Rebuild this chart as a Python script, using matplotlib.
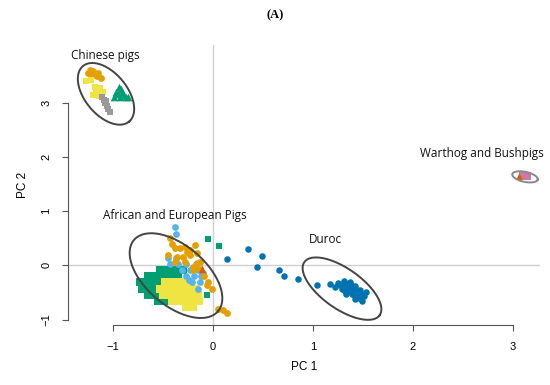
import numpy as np
import matplotlib.pyplot as plt

# PCA scores (PC1, PC2)
chn_orange_x = [-1.25, -1.20, -1.15, -1.21, -1.16, -1.12, -1.23, -1.18]
chn_orange_y = [3.55, 3.59, 3.55, 3.50, 3.48, 3.46, 3.60, 3.52]
chn_yellow_x = [-1.27, -1.22, -1.18, -1.13, -1.17, -1.10, -1.14, -1.20, -1.16]
chn_yellow_y = [3.40, 3.41, 3.28, 3.26, 3.18, 3.19, 3.12, 3.14, 3.23]
chn_gray_x = [-1.11, -1.09, -1.08, -1.06, -1.05, -1.03, -1.07]
chn_gray_y = [3.10, 3.05, 2.99, 2.93, 2.88, 2.82, 3.03]
chn_green_x = [-0.94, -0.97, -0.91, -0.99, -0.93, -0.87, -0.95, -0.89, -0.85, -0.92]
chn_green_y = [3.29, 3.20, 3.20, 3.11, 3.11, 3.11, 3.15, 3.13, 3.10, 3.25]

eu_green_x = [-0.53, -0.46, -0.38, -0.30,
              -0.65, -0.58, -0.51, -0.43, -0.35,
              -0.73, -0.67, -0.60, -0.53, -0.45,
              -0.71, -0.64, -0.57, -0.50,
              -0.65, -0.58, -0.51, -0.45,
              -0.55, -0.48, -0.40]
eu_green_y = [-0.09, -0.09, -0.09, -0.09,
              -0.20, -0.20, -0.20, -0.20, -0.20,
              -0.31, -0.31, -0.31, -0.31, -0.31,
              -0.43, -0.43, -0.43, -0.43,
              -0.54, -0.54, -0.54, -0.54,
              -0.65, -0.65, -0.65]
eu_green_out_x = [-0.06, -0.05, 0.06]
eu_green_out_y = [-0.54, 0.48, 0.35]
eu_yellow_x = [-0.48, -0.41, -0.33, -0.25,
               -0.53, -0.46, -0.39, -0.32, -0.25, -0.18,
               -0.50, -0.43, -0.36, -0.29, -0.22, -0.15,
               -0.41, -0.34, -0.27, -0.20, -0.14,
               -0.27, -0.20]
eu_yellow_y = [-0.31, -0.31, -0.31, -0.31,
               -0.43, -0.43, -0.43, -0.43, -0.43, -0.43,
               -0.54, -0.54, -0.54, -0.54, -0.54, -0.54,
               -0.65, -0.65, -0.65, -0.65, -0.65,
               -0.76, -0.76]
eu_blue_x = [-0.38, -0.37, -0.45, -0.37,
             -0.43, -0.35, -0.27, -0.17,
             -0.31, -0.23, -0.15,
             -0.27, -0.19, -0.12,
             -0.21, -0.13, -0.15, -0.24, -0.10]
eu_blue_y = [0.70, 0.57, 0.13, 0.13,
             0.02, 0.02, 0.02, 0.02,
             -0.09, -0.09, -0.09,
             -0.20, -0.20, -0.20,
             -0.31, -0.31, -0.43, -0.27, -0.14]
eu_orange_x = [-0.43, -0.38, -0.33, -0.28, -0.23, -0.16, -0.26, -0.36, -0.30,
               -0.23, -0.45, -0.38, -0.28, -0.16, -0.13, -0.20, -0.13, -0.20,
               -0.05, -0.06, -0.01, 0.05, 0.10, 0.14, -0.41, -0.18, -0.09]
eu_orange_y = [0.50, 0.31, 0.31, 0.33, 0.28, 0.22, 0.24, 0.15, 0.15,
               0.19, 0.19, 0.06, 0.06, 0.04, 0.06, -0.04, -0.06, -0.09,
               -0.31, -0.37, -0.43, -0.80, -0.83, -0.87, 0.39, 0.37, -0.19]
eu_red_x = [-0.11]
eu_red_y = [-0.06]

duroc_x = [0.14, 0.35, 0.49, 0.44, 0.66, 0.71, 0.85, 1.04, 1.17,
           1.25, 1.31, 1.37, 1.29, 1.35, 1.42, 1.47, 1.33, 1.39, 1.45,
           1.51, 1.42, 1.49, 1.27, 1.53, 1.40, 1.30, 1.34, 1.38, 1.44,
           1.36, 1.41, 1.46, 1.32, 1.48, 1.22]
duroc_y = [0.11, 0.30, 0.17, -0.04, -0.09, -0.20, -0.26, -0.37, -0.35,
           -0.33, -0.28, -0.31, -0.43, -0.41, -0.39, -0.46, -0.52, -0.52, -0.56,
           -0.57, -0.63, -0.65, -0.37, -0.50, -0.44, -0.36, -0.35, -0.37, -0.45,
           -0.48, -0.55, -0.60, -0.47, -0.53, -0.40]

wart_x = [3.10, 3.14]
wart_y = [1.65, 1.65]
bush_x = [3.06]
bush_y = [1.64]

# groups: centre, semi-axes (screen px), screen angle
groups = ['Chinese pigs', 'African and European Pigs', 'Duroc', 'Warthog and Bushpigs']
label_xy = [(-1.08, 3.86), (-0.38, 0.92), (1.12, 0.48), (2.69, 2.06)]
ell_centre = [(-1.07, 3.16), (-0.37, -0.19), (1.29, -0.43), (3.12, 1.63)]
ell_axes = [(36, 21), (55, 30), (46, 20), (13, 5)]
ell_angle = [-50, -40, -35, -12]
ell_color = ['#444444', '#444444', '#444444', '#888888']

fig = plt.figure(figsize=(5.5, 3.85), dpi=100)
ax = fig.add_axes([68 / 550, 1 - 325 / 385, 472 / 550, 280 / 385])
ax.set_xlim(-1.45, 3.27)
ax.set_ylim(-1.10, 4.06)

ax.axvline(0, color='#cfcfcf', lw=1, zorder=0)
ax.axhline(0, color='#cfcfcf', lw=1, zorder=0)

ax.scatter(chn_orange_x, chn_orange_y, s=24, c='#E69F00', marker='o', lw=0)
ax.scatter(chn_yellow_x, chn_yellow_y, s=24, c='#F0E442', marker='s', lw=0)
ax.scatter(chn_gray_x, chn_gray_y, s=16, c='#999999', marker='s', lw=0)
ax.scatter(chn_green_x, chn_green_y, s=30, c='#009E73', marker='^', lw=0)

ax.scatter(eu_green_x, eu_green_y, s=36, c='#009E73', marker='s', lw=0)
ax.scatter(eu_green_out_x, eu_green_out_y, s=18, c='#009E73', marker='s', lw=0)
ax.scatter(eu_yellow_x, eu_yellow_y, s=36, c='#F0E442', marker='s', lw=0)
ax.scatter(eu_blue_x, eu_blue_y, s=24, c='#56B4E9', marker='o', lw=0)
ax.scatter(eu_orange_x, eu_orange_y, s=24, c='#E69F00', marker='o', lw=0)
ax.scatter(eu_red_x, eu_red_y, s=30, c='#D55E00', marker='^', lw=0)

ax.scatter(duroc_x, duroc_y, s=22, c='#0072B2', marker='o', lw=0)
ax.scatter(wart_x, wart_y, s=26, c='#CC79A7', marker='s', lw=0)
ax.scatter(bush_x, bush_y, s=22, c='#D55E00', marker='^', lw=0)

# ellipses drawn in screen proportions (100 px per PC1 unit, 54 px per PC2 unit)
t = np.linspace(0, 2 * np.pi, 200)
for (cx, cy), (a, b), ang, col in zip(ell_centre, ell_axes, ell_angle, ell_color):
    th = np.radians(ang)
    px = a * np.cos(t) * np.cos(th) - b * np.sin(t) * np.sin(th)
    py = a * np.cos(t) * np.sin(th) + b * np.sin(t) * np.cos(th)
    ax.plot(cx + px / 100, cy + py / 54, color=col, lw=1.4)

for name, (lx, ly) in zip(groups, label_xy):
    ax.text(lx, ly, name, fontsize=8.5, family='Open Sans', ha='center', va='center', color='#111111')

for s in ['top', 'right']:
    ax.spines[s].set_visible(False)
ax.spines['left'].set_bounds(-1, 3)
ax.spines['bottom'].set_bounds(-1, 3)
ax.spines['left'].set_color('#555555')
ax.spines['bottom'].set_color('#555555')
ax.set_xticks([-1, 0, 1, 2, 3])
ax.set_yticks([-1, 0, 1, 2, 3])
ax.set_xticklabels(['\u22121', '0', '1', '2', '3'])
ax.set_yticklabels(['\u22121', '0', '1', '2', '3'], rotation=90, va='center')
ax.tick_params(length=4, width=0.8, color='#555555', labelsize=8, pad=8)
for lab in ax.get_xticklabels() + ax.get_yticklabels():
    lab.set_family('Liberation Sans')
ax.set_xlabel('PC 1', fontsize=8.5, family='Liberation Sans', labelpad=7)
ax.set_ylabel('PC 2', fontsize=8.5, family='Liberation Sans', labelpad=9)

fig.text(0.5, 1 - 15 / 385, '(A)', ha='center', va='center', fontsize=9,
         fontweight='bold', family='Liberation Serif')

fig.savefig('out.png', dpi=100)
